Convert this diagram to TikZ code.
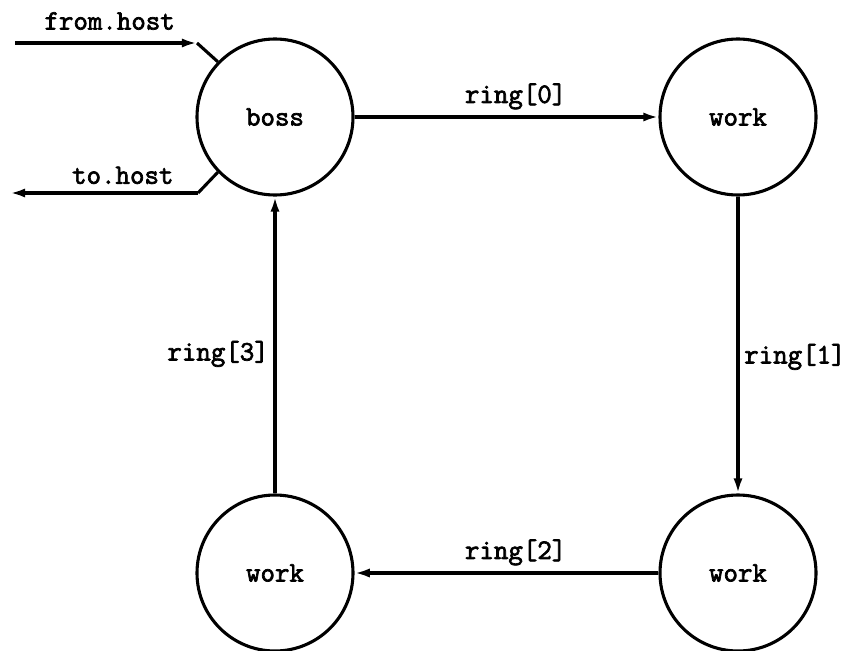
\documentclass[tikz,border=0pt]{standalone}
\usepackage{fontspec}
\setmonofont[AutoFakeBold=2.5]{Latin Modern Mono}
\usepackage{tikz}
\usetikzlibrary{arrows.meta}
\usetikzlibrary{positioning}

\tikzset{
  proc/.style={draw, circle, line width=2.2pt, minimum size=3.9cm, inner sep=0pt,
    font=\fontsize{20}{24}\selectfont\ttfamily\bfseries},
  chan/.style={line width=2.2pt, -{Latex[length=3.8mm, width=2.3mm]}},
  lbl/.style={font=\fontsize{20}{24}\selectfont\ttfamily\bfseries}
}

\begin{document}
\begin{tikzpicture}
    \useasboundingbox (0, 0) rectangle (21.275, -16.25);

    \node [proc] (boss) at (6.875, -2.925) {boss};
    \node [proc] (work0) at (18.45, -2.925) {work};
    \node [proc] (work1) at (18.45, -14.325) {work};
    \node [proc] (work2) at (6.875, -14.325) {work};

    % host side
    \coordinate (fromstart) at (0.375, -1.075);
    \coordinate (fromcorner) at (4.925, -1.075);
    \coordinate (tocorner) at (4.95, -4.825);
    \coordinate (toend) at (0.25, -4.825);

    \draw [chan] (fromstart) -- node [lbl, above=5pt, pos=0.52] {from.host} (fromcorner);
    \draw [line width=2.2pt] (fromcorner) -- (boss.136);
    \draw [line width=2.2pt] (boss.224) -- (tocorner);
    \draw [chan] (tocorner) -- node [lbl, above=2pt, pos=0.4] {to.host} (toend);

    % the ring
    \draw [chan] (boss) -- node [lbl, above=1pt, pos=0.53] {ring[0]} (work0);
    \draw [chan] (work0) -- node [lbl, right, pos=0.54] {ring[1]} (work1);
    \draw [chan] (work1) -- node [lbl, above=1pt, pos=0.47] {ring[2]} (work2);
    \draw [chan] (work2) -- node [lbl, left, pos=0.47] {ring[3]} (boss);
\end{tikzpicture}
\end{document}
